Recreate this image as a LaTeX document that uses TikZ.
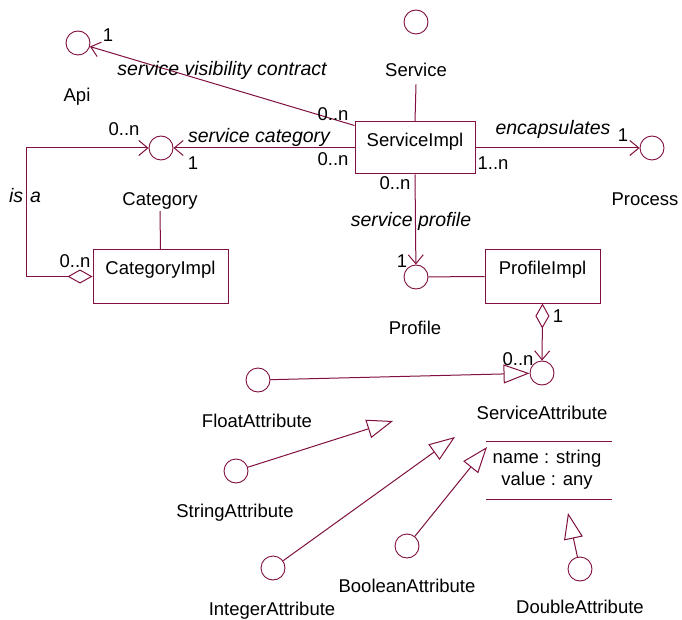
\documentclass[tikz,border=0pt]{standalone}
\usepackage{fontspec}
\setmainfont{Liberation Sans}
\usetikzlibrary{arrows.meta,calc}
\definecolor{ln}{RGB}{128,16,64}
\begin{document}
\begin{tikzpicture}[x=1pt,y=-1pt,
  lbl/.style={font=\fontsize{18.5}{20}\selectfont, inner sep=1pt, anchor=base},
  itl/.style={font=\fontsize{19.5}{21}\selectfont\itshape, inner sep=1pt, anchor=base},
  cls/.style={draw=ln, line width=1pt, rectangle, inner sep=0pt},
  iface/.style={circle, draw=ln, line width=0.9pt, minimum size=24pt, inner sep=0pt},
  conn/.style={draw=ln, line width=1pt},
  nav/.style={conn, -{Straight Barb[length=9pt,width=15pt]}},
  gen/.style={conn, -{Triangle[open, length=26pt, width=19pt, fill=white]}},
  aggr/.style={conn, {Diamond[open, length=25pt, width=14pt, fill=white]}-{Straight Barb[length=9pt,width=15pt]}},
  aggrline/.style={conn, {Diamond[open, length=25pt, width=14pt, fill=white]}-}
]
\useasboundingbox[fill=white] (0,0) rectangle (682,620);

% class boxes
\node[cls, minimum width=120pt, minimum height=52pt] (si) at (415,148) {};
\node[lbl] (sit) at (415,147) {ServiceImpl};
\node[cls, minimum width=135pt, minimum height=53pt] (ci) at (160.5,276.5) {};
\node[lbl] (cit) at (160.5,274) {CategoryImpl};
\node[cls, minimum width=115pt, minimum height=53pt] (pi) at (542.5,276.5) {};
\node[lbl] (pit) at (542.5,274) {ProfileImpl};

% interfaces
\node[iface] (api)  at (78,43) {};
\node[iface] (cat)  at (161,148) {};
\node[iface] (svc)  at (416,22) {};
\node[iface] (proc) at (652,148) {};
\node[iface] (prof) at (416,277) {};
\node[iface] (sa)   at (542,373) {};
\node[iface] (fa)   at (258,380) {};
\node[iface] (sta)  at (236,471) {};
\node[iface] (ia)   at (273,568) {};
\node[iface] (ba)   at (407,546) {};
\node[iface] (da)   at (580,569) {};

% interface names
\node[lbl] (apil)  at (77,102) {Api};
\node[lbl] (svcl)  at (416,77) {Service};
\node[lbl] (catl)  at (160,206) {Category};
\node[lbl] (procl) at (645,206) {Process};
\node[lbl] (profl) at (415,334) {Profile};
\node[lbl] (sal)   at (542,419) {ServiceAttribute};
\node[lbl] (fal)   at (257,427) {FloatAttribute};
\node[lbl] (stal)  at (235,517) {StringAttribute};
\node[lbl] (ial)   at (272,615) {IntegerAttribute};
\node[lbl] (bal)   at (407,592) {BooleanAttribute};
\node[lbl] (dal)   at (580,613) {DoubleAttribute};

% attribute compartment of ServiceAttribute
\draw[draw=ln, line width=1pt] (486,441) -- (612,441);
\draw[draw=ln, line width=1pt] (486,499) -- (612,499);
\node[lbl] (attn) at (547,463) {name : string};
\node[lbl] (attv) at (547,485) {value : any};

% realization lines
\draw[conn] ($(svcl.south)+(0,6)$) -- (si.north);
\draw[conn] (catl.south) -- (ci.north);
\draw[conn] (prof) -- (pi.west);

% associations
\draw[nav] ($(si.north west)+(0,4)$) -- (api);
\draw[nav] (si.west) -- (cat);
\draw[nav] (si.east) -- (proc);
\draw[nav] (si.south) -- (prof);
\coordinate (isa) at (26,148);
\draw[aggrline] (ci.west) -| (isa);
\draw[nav] (isa) -- (cat);
\draw[aggr] (pi.south) -- (sa);

% association labels
\node[itl] (l1) at (222,76) {service visibility contract};
\node[itl] (l2) at (259,143) {service category};
\node[itl] (l3) at (553,135) {encapsulates};
\node[itl] (l4) at (411,227) {service profile};
\node[itl] (l5) at (25,203) {is\hspace{7pt}a};

% multiplicities
\node[lbl] (m1)  at (108,42) {1};
\node[lbl] (m2)  at (333,121) {0..n};
\node[lbl] (m3)  at (124,136) {0..n};
\node[lbl] (m4)  at (193,170) {1};
\node[lbl] (m5)  at (333,166) {0..n};
\node[lbl] (m6)  at (75,267) {0..n};
\node[lbl] (m7)  at (623,142) {1};
\node[lbl] (m8)  at (493,170) {1..n};
\node[lbl] (m9)  at (395,190) {0..n};
\node[lbl] (m10) at (402,267) {1};
\node[lbl] (m11) at (558,322) {1};
\node[lbl] (m12) at (518,365) {0..n};

% generalizations
\coordinate (t1) at (393,421);
\coordinate (t2) at (455,437);
\coordinate (t3) at (487,447);
\coordinate (t4) at (568,513);
\draw[gen] (fa) -- (sa);
\draw[gen] (sta) -- (t1);
\draw[gen] (ia) -- (t2);
\draw[gen] (ba) -- (t3);
\draw[gen] (da) -- (t4);
\end{tikzpicture}
\end{document}
